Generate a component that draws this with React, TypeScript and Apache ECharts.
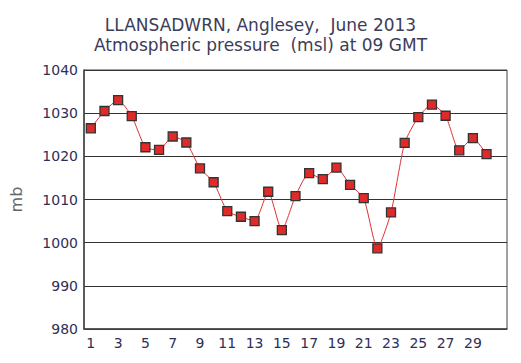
import React, { useEffect, useRef } from "react";
import * as echarts from "echarts";

const days = Array.from({ length: 31 }, (_, i) => String(i + 1));
const pressure = [
  1026.5, 1030.5, 1033.0, 1029.3, 1022.1, 1021.5, 1024.6, 1023.2, 1017.2, 1014.0,
  1007.3, 1006.0, 1005.0, 1011.8, 1002.9, 1010.8, 1016.1, 1014.7, 1017.4, 1013.4,
  1010.3, 998.7, 1007.0, 1023.1, 1029.1, 1032.0, 1029.4, 1021.4, 1024.2, 1020.5,
];
const titleLines = ["LLANSADWRN, Anglesey,  June 2013", "Atmospheric pressure  (msl) at 09 GMT"];
const yLabel = "mb";

export default function App() {
  const ref = useRef<HTMLDivElement>(null);
  useEffect(() => {
    const chart = echarts.init(ref.current!, null, { renderer: "svg" });
    chart.setOption({
      animation: false,
      backgroundColor: "#ffffff",
      title: {
        text: titleLines.join("\n"),
        left: "center",
        top: 10,
        textStyle: {
          fontFamily: "DejaVu Sans",
          fontSize: 17,
          fontWeight: "normal",
          color: "#3c3c58",
          lineHeight: 20,
        },
      },
      grid: {
        left: 83,
        right: 14,
        top: 70,
        bottom: 34,
        show: true,
        borderColor: "#444",
        borderWidth: 1,
      },
      xAxis: {
        type: "category",
        data: days,
        boundaryGap: true,
        axisLine: { show: true, lineStyle: { color: "#444", width: 1.5 } },
        axisTick: { show: false },
        axisLabel: {
          interval: (idx: number) => idx % 2 === 0 && idx < 30,
          fontFamily: "DejaVu Sans",
          fontSize: 14,
          color: "#2e2e5a",
          margin: 7,
        },
      },
      yAxis: {
        type: "value",
        min: 980,
        max: 1040,
        interval: 10,
        name: yLabel,
        nameLocation: "middle",
        nameGap: 60,
        nameTextStyle: { fontFamily: "DejaVu Sans", fontSize: 16, color: "#666" },
        axisLine: { show: true, lineStyle: { color: "#444", width: 1.5 } },
        axisTick: { show: false },
        axisLabel: {
          formatter: (v: number) => String(v),
          fontFamily: "DejaVu Sans",
          fontSize: 14,
          color: "#2e2e5a",
          margin: 6,
        },
        splitLine: { show: true, lineStyle: { color: "#333", width: 1.2 } },
      },
      series: [
        {
          type: "line",
          data: pressure,
          smooth: 0.2,
          symbol: "rect",
          symbolSize: 9,
          lineStyle: { color: "#e03030", width: 1 },
          itemStyle: { color: "#e02a2a", borderColor: "#333", borderWidth: 1.3 },
        },
      ],
    });
    return () => chart.dispose();
  }, []);
  return <div ref={ref} style={{ width: 521, height: 363, position: "absolute", left: 0, top: 0 }} />;
}
